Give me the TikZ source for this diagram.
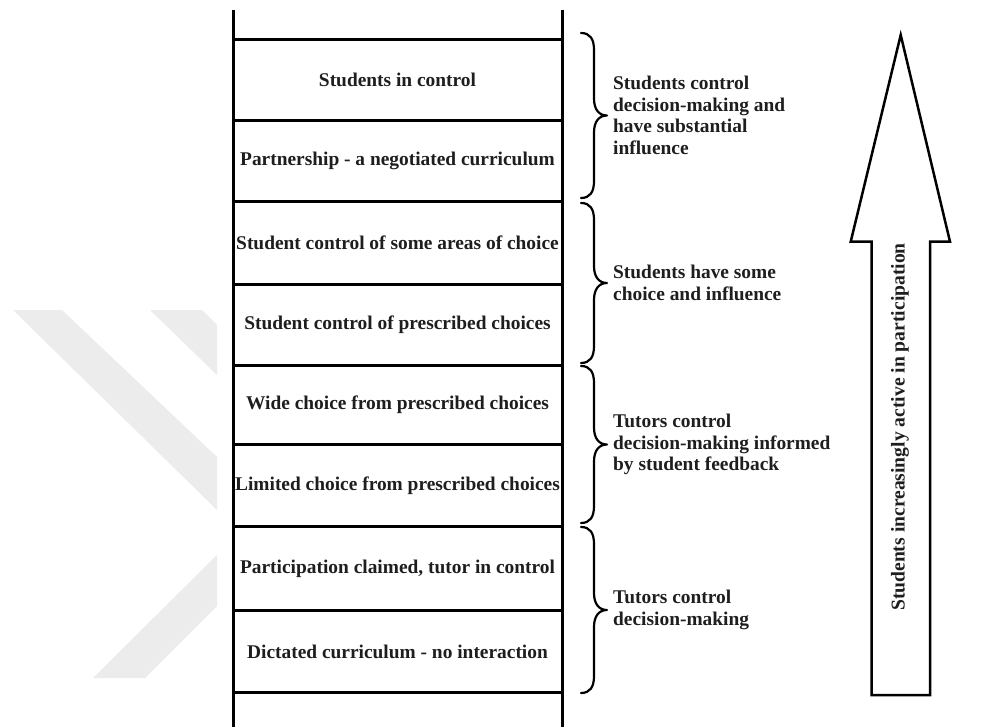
\documentclass[tikz,border=0pt]{standalone}
\usepackage{fontspec}
\setmainfont{Liberation Serif}
\definecolor{wmgray}{RGB}{236,236,236}
\definecolor{inkgray}{RGB}{30,30,30}

% right-pointing curly brace: #1 = x of its ends, #2 = top, #3 = bottom, #4 = name of the tip
\newcommand\sidebrace[4]{%
  \draw[bracestyle]
    (#1,#2) .. controls ({#1+9},#2) and ({#1+13},{#2+6}) .. ({#1+13},{#2+17})
    -- ({#1+13},{(#2+#3)/2-17})
    .. controls ({#1+13},{(#2+#3)/2-6}) and ({#1+18},{(#2+#3)/2}) .. ({#1+26},{(#2+#3)/2})
    .. controls ({#1+18},{(#2+#3)/2}) and ({#1+13},{(#2+#3)/2+6}) .. ({#1+13},{(#2+#3)/2+17})
    -- ({#1+13},{#3-17})
    .. controls ({#1+13},{#3-6}) and ({#1+9},#3) .. (#1,#3);
  \coordinate (#4) at ({#1+26},{(#2+#3)/2});
}

\begin{document}
\begin{tikzpicture}[x=1pt,y=-1pt,
  rail/.style={line width=3pt},
  rungline/.style={line width=3pt},
  bracestyle/.style={line width=2.2pt, line cap=round, line join=round},
  arrowline/.style={line width=2.5pt, line join=miter},
  steptext/.style={font=\bfseries\fontsize{19.4}{21.7}\selectfont, text=inkgray, inner sep=0pt},
  sidetext/.style={font=\bfseries\fontsize{19.4}{21.7}\selectfont, text=inkgray, inner sep=0pt,
                   align=left, anchor=west, xshift=6pt},
  arrowtext/.style={font=\bfseries\fontsize{19.6}{22}\selectfont, text=inkgray, inner sep=0pt, rotate=90},
  wm/.style={fill=wmgray, draw=none}
]
\useasboundingbox (0,0) rectangle (981,727);
\fill[white] (0,0) rectangle (981,727);

% faint background chevron
\fill[wm] (13,310) -- (62,310) -- (217,457) -- (217,510) -- cycle;
\fill[wm] (150,310) -- (202,310) -- (217,325) -- (217,375) -- cycle;
\fill[wm] (93,678) -- (145,678) -- (217,606) -- (217,555) -- cycle;

% ladder rails and rungs
\draw[rail] (233,10) -- (233,727);
\draw[rail] (562,10) -- (562,727);
\foreach \yy in {39.5,120.5,201.5,284,365.5,444,526.5,610.5,692.5}
  \draw[rungline] (233,\yy) -- (562,\yy);

% rung labels
\node[steptext] (s8) at (397.5,80)    {Students in control};
\node[steptext] (s7) at (397.5,161)   {Partnership - a negotiated curriculum};
\node[steptext] (s6) at (397.5,242.5) {Student control of some areas of choice};
\node[steptext] (s5) at (397.5,325)   {Student control of prescribed choices};
\node[steptext] (s4) at (397.5,405)   {Wide choice from prescribed choices};
\node[steptext] (s3) at (397.5,485.5) {Limited choice from prescribed choices};
\node[steptext] (s2) at (397.5,568.5) {Participation claimed, tutor in control};
\node[steptext] (s1) at (397.5,651.5) {Dictated curriculum - no interaction};

% braces grouping pairs of rungs
\sidebrace{581}{33}{198}{b4}
\sidebrace{581}{203}{363}{b3}
\sidebrace{581}{366}{523}{b2}
\sidebrace{581}{527}{693}{b1}

\node[sidetext] (g4) at (b4) {Students control\\decision-making and\\have substantial\\influence};
\node[sidetext] (g3) at (b3) {Students have some\\choice and influence};
\node[sidetext] (g2) at (b2) {Tutors control\\decision-making informed\\by student feedback};
\node[sidetext] (g1) at (b1) {Tutors control\\decision-making};

% upward block arrow
\draw[arrowline] (900.7,35) -- (950,241.7) -- (930,241.7) -- (930,695)
  -- (871.7,695) -- (871.7,241.7) -- (850.7,241.7) -- cycle;
\node[arrowtext] (up) at (900,427) {Students increasingly active in participation};
\end{tikzpicture}
\end{document}
